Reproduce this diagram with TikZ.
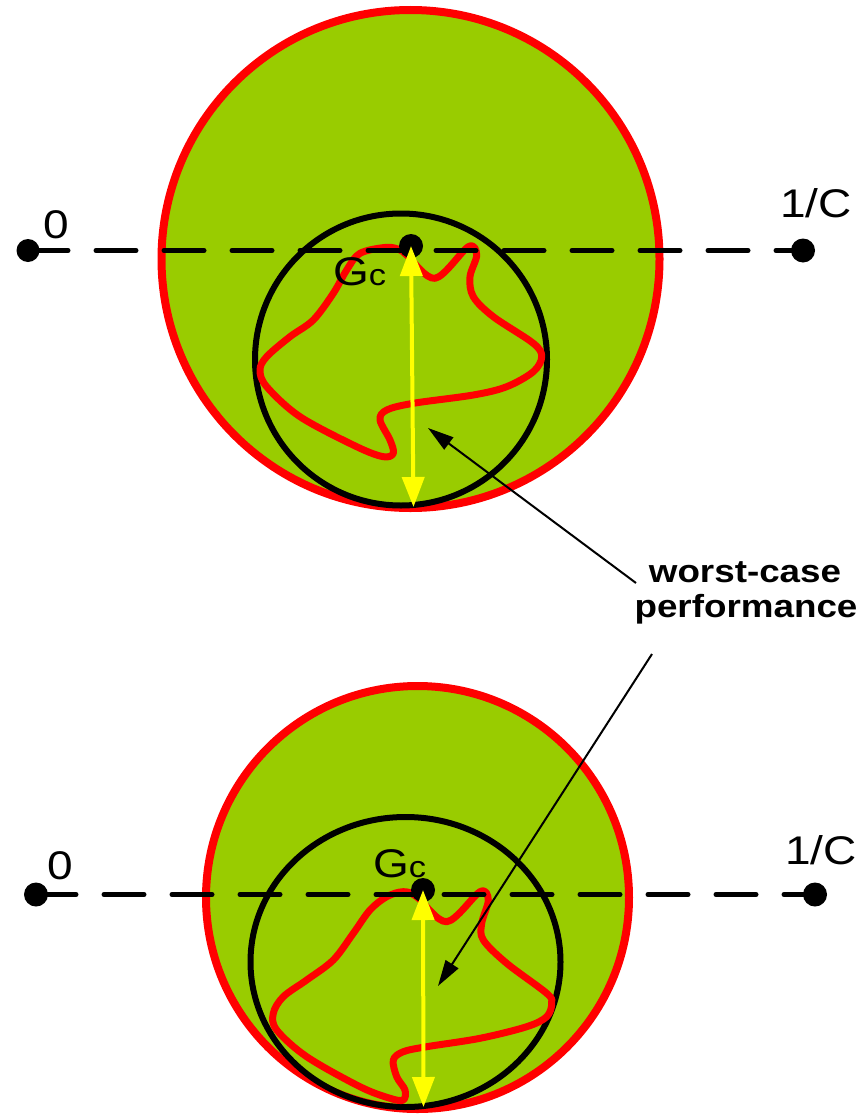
\documentclass[tikz,border=0pt]{standalone}
\usepackage{fontspec}
\setmainfont{Liberation Sans}[FakeStretch=1.15]
\usetikzlibrary{arrows.meta}
\definecolor{disk}{RGB}{153,204,0}
\definecolor{rim}{RGB}{255,0,0}
\definecolor{yel}{RGB}{255,255,0}
\tikzset{
  diskstyle/.style={fill=disk, draw=rim, line width=8pt},
  unc/.style={draw=black, line width=6pt},
  nyq/.style={draw=rim, line width=7pt, line join=round},
  axisline/.style={draw=black, line width=5pt, line cap=round, dash pattern=on 40pt off 28pt},
  dotstyle/.style={fill=black},
  yarrow/.style={draw=yel, line width=4pt, {Triangle[width=22pt,length=30pt]}-{Triangle[width=22pt,length=30pt]}},
  barrow/.style={draw=black, line width=2pt, -{Triangle[width=15pt,length=26pt]}},
  lab/.style={font=\fontsize{40}{48}\selectfont, inner sep=0pt, anchor=base},
  blab/.style={font=\fontsize{32}{35}\selectfont\bfseries, inner sep=0pt, anchor=base},
}
\begin{document}
\begin{tikzpicture}[x=1pt,y=-1pt]
\useasboundingbox (0,0) rectangle (858,1116);

% ---------- top panel ----------
\draw[diskstyle] (410.5,259) circle[radius=249];
\draw[unc] (401,359.5) circle[radius=146];
\draw[nyq] plot[smooth cycle, tension=0.55] coordinates {
 (406.7,255) (435,278.3) (468.3,246.7) (476.7,255) (470,276.7) (473.3,296.7)
 (493.3,316.7) (533.3,343.3) (541.7,356.7) (533.3,371.7) (506.7,386.7)
 (473.3,395) (413.3,403.3) (386.7,410) (380,420) (390,440) (393.3,453.3)
 (383.3,456.7) (356.7,446.7) (300,416.7) (266.7,386.7) (260,370) (266.7,356.7)
 (290,336.7) (313.3,320) (333.3,293.3) (346.7,270) (360,253.3) (386.7,247.3) (400,250)};
\node[dotstyle, circle, inner sep=0pt, minimum size=23pt] (z1) at (28,250.5) {};
\node[dotstyle, circle, inner sep=0pt, minimum size=24pt] (c1) at (803,250.5) {};
\draw[axisline] (z1.center) -- (c1.center);
\node[dotstyle, circle, inner sep=0pt, minimum size=24pt] (g1) at (411,246) {};
\coordinate (b1) at (413.5,507);
\draw[yarrow] (g1.center) -- (b1);
\node[lab] (l01) at (56,238) {0};
\node[lab] (lc1) at (816,217) {1/C};
\node[lab, anchor=base west] (lg1) at (333,285) {G{\fontsize{30}{34}\selectfont c}};

% ---------- bottom panel ----------
\draw[diskstyle] (417.5,897.5) circle[radius=211.5];
\draw[unc] (405.5,962) ellipse[x radius=155, y radius=145];
\draw[nyq] plot[smooth cycle, tension=0.55] coordinates {
 (416.7,896.7) (446.7,921.7) (480,891.7) (488.3,900) (481.7,923.3) (483.3,940)
 (506.7,963.3) (546.7,993.3) (551.7,1003.3) (546.7,1016.7) (526.7,1026.7)
 (480,1038.3) (426.7,1046.7) (403.3,1051.7) (393.3,1060) (396.7,1076.7)
 (405,1090) (403.3,1100) (390,1098.3) (360,1086.7) (306.7,1056.7) (276.7,1030)
 (273.3,1013.3) (283.3,996.7) (306.7,980) (333.3,960) (353.3,933.3) (370,910)
 (386.7,896.7) (403.3,891.7)};
\node[dotstyle, circle, inner sep=0pt, minimum size=24pt] (z2) at (36,894.5) {};
\node[dotstyle, circle, inner sep=0pt, minimum size=24pt] (c2) at (815,894.5) {};
\draw[axisline] (z2.center) -- (c2.center);
\node[dotstyle, circle, inner sep=0pt, minimum size=24pt] (g2) at (423,890) {};
\coordinate (b2) at (423.5,1107);
\draw[yarrow] (g2.center) -- (b2);
\node[lab] (l02) at (60,879) {0};
\node[lab] (lc2) at (821,864) {1/C};
\node[lab, anchor=base west] (lg2) at (373,877) {G{\fontsize{30}{34}\selectfont c}};

% ---------- label and pointers ----------
\node[blab] (w1) at (745,582) {worst-case};
\node[blab] (w2) at (746,617) {performance};
\coordinate (s1) at (636,583);
\coordinate (t1) at (428,428);
\coordinate (s2) at (652,654);
\coordinate (t2) at (438,986);
\draw[barrow] (s1) -- (t1);
\draw[barrow] (s2) -- (t2);
\end{tikzpicture}
\end{document}
